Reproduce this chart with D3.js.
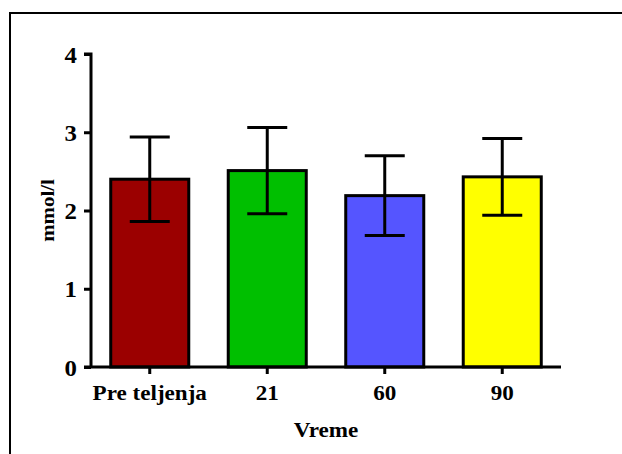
<!DOCTYPE html>
<html>
<head>
<meta charset="utf-8">
<script src="https://cdn.jsdelivr.net/npm/d3@7"></script>
<style>
  html, body { margin: 0; padding: 0; background: #fff; }
  svg { display: block; }
  svg text { font-family: "Liberation Serif", "Times New Roman", Times, "DejaVu Serif", serif !important; font-weight: bold; fill: #000; }
</style>
</head>
<body>
<svg id="chart" width="622" height="454"></svg>
<script>
// Categories (sampling time) and measured values with standard deviations
const categories = ["Pre teljenja", "21", "60", "90"];
const means = [2.40, 2.51, 2.19, 2.43];
const sds = [0.54, 0.55, 0.51, 0.49];
const barColors = ["#9b0000", "#00bf00", "#5555ff", "#ffff00"];
const yTicks = [0, 1, 2, 3, 4];
const xTitle = "Vreme";
const yTitle = "mmol/l";

const serif = "'Liberation Serif', 'Times New Roman', Times, serif";
const svg = d3.select("#chart");

// outer frame (left and top edges visible)
svg.append("path")
  .attr("d", "M10,454 V13 H622")
  .attr("fill", "none")
  .attr("stroke", "#000")
  .attr("stroke-width", 2);

const plot = { left: 91, right: 561, top: 54, bottom: 367 };

const x = d3.scaleBand()
  .domain(categories)
  .range([plot.left, plot.right])
  .paddingInner(0.336)
  .paddingOuter(0.168);

const y = d3.scaleLinear()
  .domain([0, 4])
  .range([plot.bottom, plot.top]);

// bars
svg.append("g").selectAll("rect")
  .data(categories)
  .join("rect")
  .attr("x", d => x(d))
  .attr("y", (d, i) => y(means[i]))
  .attr("width", x.bandwidth())
  .attr("height", (d, i) => y(0) - y(means[i]))
  .attr("fill", (d, i) => barColors[i])
  .attr("stroke", "#000")
  .attr("stroke-width", 3);

// error bars (mean ± SD)
const capW = 40;
const err = svg.append("g")
  .attr("stroke", "#000")
  .attr("stroke-width", 3)
  .attr("fill", "none");
categories.forEach((c, i) => {
  const cx = x(c) + x.bandwidth() / 2;
  const hi = y(means[i] + sds[i]);
  const lo = y(means[i] - sds[i]);
  err.append("line").attr("x1", cx).attr("x2", cx).attr("y1", hi).attr("y2", lo);
  err.append("line").attr("x1", cx - capW / 2).attr("x2", cx + capW / 2).attr("y1", hi).attr("y2", hi);
  err.append("line").attr("x1", cx - capW / 2).attr("x2", cx + capW / 2).attr("y1", lo).attr("y2", lo);
});

// y axis
const yAxis = svg.append("g")
  .attr("transform", `translate(${plot.left},0)`)
  .call(d3.axisLeft(y).tickValues(yTicks).tickFormat(d3.format("d")).tickSize(7).tickPadding(5));
yAxis.attr("font-family", serif);
yAxis.select(".domain").attr("stroke", "#000").attr("stroke-width", 3)
  .attr("d", `M-7,${plot.top}H0V${plot.bottom}`);
yAxis.selectAll(".tick line").attr("stroke", "#000").attr("stroke-width", 3);
yAxis.selectAll(".tick text")
  .attr("font-size", 23)
  .attr("x", -13)
  .attr("dy", "0.35em")
  .attr("transform", "scale(1.08,1)");

// x axis
const xAxis = svg.append("g")
  .attr("transform", `translate(0,${plot.bottom})`)
  .call(d3.axisBottom(x).tickSize(7));
xAxis.attr("font-family", serif);
xAxis.select(".domain").attr("stroke", "#000").attr("stroke-width", 3)
  .attr("d", `M${plot.left - 7},0H${plot.right}`);
xAxis.selectAll(".tick line").attr("stroke", "#000").attr("stroke-width", 3);
xAxis.selectAll(".tick text")
  .attr("font-size", 21)
  .attr("y", 33)
  .attr("dy", 0)
  .attr("transform", "scale(1.1,1)");

// axis titles
svg.append("text")
  .attr("transform", `translate(${(plot.left + plot.right) / 2},437) scale(1.1,1)`)
  .attr("text-anchor", "middle")
  .attr("font-size", 21)
  .text(xTitle);

svg.append("text")
  .attr("transform", `translate(54,${(plot.top + plot.bottom) / 2}) rotate(-90) scale(1.1,1)`)
  .attr("text-anchor", "middle")
  .attr("font-size", 19)
  .text(yTitle);
</script>
</body>
</html>
